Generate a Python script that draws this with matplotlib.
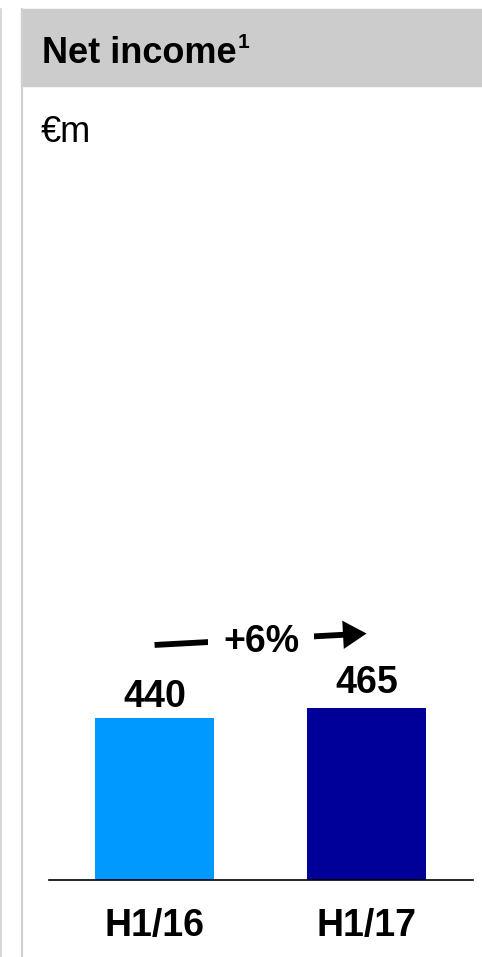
import matplotlib.pyplot as plt
from matplotlib.patches import Rectangle
from matplotlib.lines import Line2D

plt.rcParams['font.family'] = ['Liberation Sans', 'DejaVu Sans']

periods = ['H1/16', 'H1/17']
net_income = [440, 465]
bar_colors = ['#0099FF', '#000099']
growth_label = '+6%'
title = 'Net income'
footnote = '1'
unit = '€m'

W, H = 482, 957
fig = plt.figure(figsize=(W / 100, H / 100), dpi=100)

# panel frame: grey header band and thin grey rules on the left
fig.patches.append(Rectangle((21 / W, 1 - 86 / H), 1 - 21 / W, 77 / H,
                             transform=fig.transFigure, color='#CCCCCC', zorder=0))
fig.lines.append(Line2D([21.5 / W, 21.5 / W], [0, 1 - 9 / H], transform=fig.transFigure,
                        color='#D0D0D0', lw=1.5))
fig.lines.append(Line2D([0.5 / W, 0.5 / W], [0, 1 - 9 / H], transform=fig.transFigure,
                        color='#D0D0D0', lw=1.2))

t = fig.text(42 / W, 1 - 63 / H, title, fontsize=26, fontweight='bold',
             va='baseline', ha='left')
bb = t.get_window_extent(renderer=fig.canvas.get_renderer())
fig.text((bb.x1 + 1) / W, 1 - 48 / H, footnote, fontsize=15, fontweight='bold',
         va='baseline', ha='left')
fig.text(41 / W, 1 - 142 / H, unit, fontsize=26, va='baseline', ha='left')

ax = fig.add_axes([49 / W, 77 / H, 424 / W, 780 / H])
x = range(len(periods))
bars = ax.bar(x, net_income, width=0.561, color=bar_colors)
ax.set_xlim(-0.498, 1.502)
ax.set_ylim(0, 2114)

for spine in ['top', 'right', 'left']:
    ax.spines[spine].set_visible(False)
ax.spines['bottom'].set_linewidth(1.2)
ax.set_yticks([])
ax.set_xticks(list(x))
ax.set_xticklabels(periods, fontsize=27, fontweight='bold')
ax.tick_params(axis='x', length=0, pad=20)

for xi, v, off in zip(x, net_income, [8, 11]):
    ax.annotate(str(v), (xi, v), xytext=(0, off), textcoords='offset points',
                ha='center', va='baseline', fontsize=27, fontweight='bold')

# growth arrow from first bar to second bar
ax.annotate('', xy=(1.0, 668), xytext=(0.0, 637),
            arrowprops=dict(arrowstyle='-|>,head_length=0.6,head_width=0.36',
                            mutation_scale=18, lw=4.2, color='black',
                            capstyle='butt', joinstyle='miter',
                            shrinkA=0, shrinkB=0))
ax.text(0.502, 645, growth_label, ha='center', va='center', fontsize=27,
        fontweight='bold',
        bbox=dict(facecolor='white', edgecolor='none', pad=11))

fig.savefig('out.png', dpi=100)
